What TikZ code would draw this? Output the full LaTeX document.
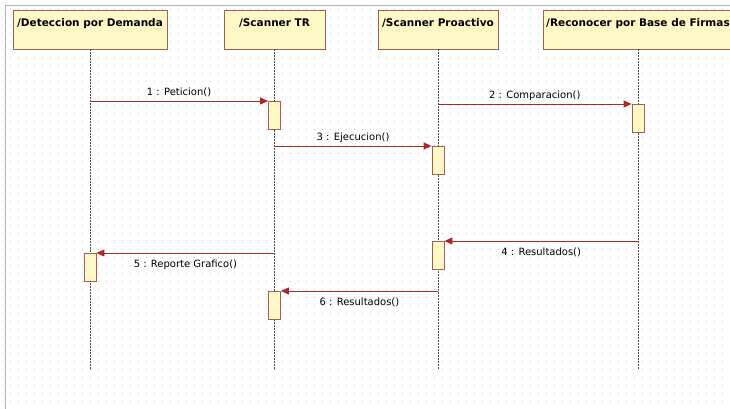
\documentclass[tikz,border=0pt]{standalone}
\usepackage{fontspec}
\setmainfont{DejaVu Sans}
\usetikzlibrary{positioning, arrows.meta}

\definecolor{boxfill}{RGB}{255,249,200}
\definecolor{boxline}{RGB}{165,95,80}
\definecolor{msgline}{RGB}{170,40,40}
\definecolor{gridgray}{RGB}{200,200,200}

\begin{document}
\begin{tikzpicture}[
        x=1pt, y=-1pt,
        every node/.style={font=\fontsize{10}{11}\selectfont},
        head/.style={rectangle, draw=boxline, fill=boxfill, thick, minimum height=39pt, inner xsep=2pt, inner ysep=8pt, text height=8pt, text depth=15pt, font=\fontsize{10.5}{12}\selectfont\bfseries},
        act/.style={rectangle, draw=boxline, fill=boxfill, thick, minimum width=12pt, minimum height=28pt, inner sep=0pt, anchor=north},
        lifeline/.style={draw=black!70, line width=0.9pt, dash pattern=on 1.5pt off 1.5pt},
        msg/.style={draw=msgline, line width=0.8pt, -{Triangle[length=8pt,width=7pt]}},
        under/.style={below, yshift=-3pt}
    ]
        % page, dotted grid and frame
        \useasboundingbox[fill=white] (0,0) rectangle (730,408);
        \foreach \gy in {9,17,...,405}
            \draw[gridgray, line width=1pt, dash pattern=on 1pt off 7pt] (2,\gy) -- (730,\gy);
        \draw[black!30, line width=1pt] (5,5) rectangle (745,420);

        % objects
        \node[head, minimum width=154pt] (det) at (90,29.5) {/Deteccion por Demanda};
        \node[head, minimum width=101pt] (scan) at (274.5,29.5) {/Scanner TR};
        \node[head, minimum width=120pt] (pro) at (438,29.5) {/Scanner Proactivo};
        \node[head, minimum width=190pt] (rec) at (638,29.5) {/Reconocer por Base de Firmas};

        % lifelines
        \coordinate (bot) at (0,370);
        \foreach \n in {det, scan, pro, rec}
            \draw[lifeline] (\n.south) -- (\n.south |- bot);

        % activations
        \node[act] (scanA) at (274.5,101) {};
        \node[act] (recA) at (638,104) {};
        \node[act] (proA) at (438,146) {};
        \node[act] (proB) at (438,241) {};
        \node[act] (detA) at (90,253) {};
        \node[act] (scanB) at (274.5,291) {};

        % messages
        \draw[msg] (det |- scanA.north) -- node[above] {1 : Peticion()} (scanA.north west);
        \draw[msg] (pro |- recA.north) -- node[above] {2 : Comparacion()} (recA.north west);
        \draw[msg] (scan |- proA.north) -- node[above] {3 : Ejecucion()} (proA.north west);
        \draw[msg] (rec |- proB.north) -- node[under] {4 : Resultados()} (proB.north east);
        \draw[msg] (scan |- detA.north) -- node[under] {5 : Reporte Grafico()} (detA.north east);
        \draw[msg] (pro |- scanB.north) -- node[under] {6 : Resultados()} (scanB.north east);
    \end{tikzpicture}
\end{document}
